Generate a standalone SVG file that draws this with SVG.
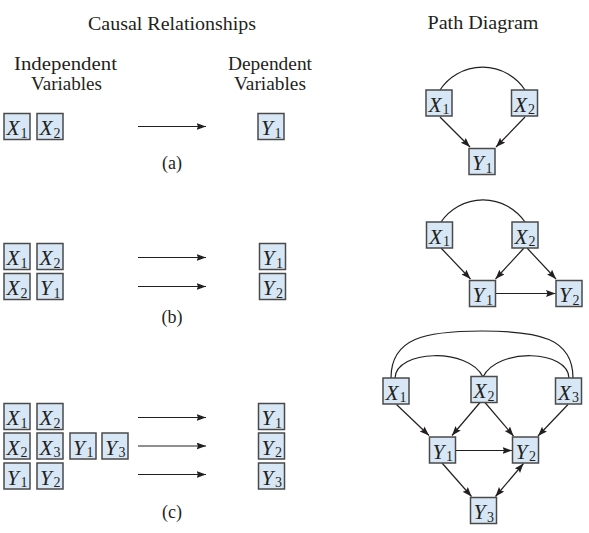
<svg xmlns="http://www.w3.org/2000/svg" width="589" height="533" viewBox="0 0 589 533">
<defs>
<style>
.bg{fill:#ffffff}
.box{fill:#d8e7f5;stroke:#4a4a4a;stroke-width:1.5}
.v{font-family:"Liberation Serif",serif;font-style:italic;font-size:21.5px;fill:#231f20}
.s{font-family:"Liberation Serif",serif;font-size:14px;fill:#231f20}
.t{font-family:"Liberation Serif",serif;font-size:18px;fill:#231f20;text-anchor:middle}
.ln{fill:none;stroke:#231f20;stroke-width:1.2}
.ar{marker-end:url(#ah)}
</style>
<marker id="ah" markerUnits="userSpaceOnUse" markerWidth="11" markerHeight="8" refX="9.5" refY="3.5" orient="auto-start-reverse">
<path d="M0,0 L9.5,3.5 L0,7 L1.5,3.5 z" fill="#231f20"/>
</marker>
</defs>
<rect class="bg" x="0" y="0" width="589" height="533"/>

<g id="titles">
<text class="t" x="172" y="30" textLength="168" lengthAdjust="spacingAndGlyphs">Causal Relationships</text>
<text class="t" x="483" y="29" textLength="111" lengthAdjust="spacingAndGlyphs">Path Diagram</text>
<text class="t" x="65.5" y="70" textLength="103" lengthAdjust="spacingAndGlyphs">Independent</text>
<text class="t" x="66.5" y="90" textLength="71" lengthAdjust="spacingAndGlyphs">Variables</text>
<text class="t" x="270" y="70" textLength="84" lengthAdjust="spacingAndGlyphs">Dependent</text>
<text class="t" x="270" y="90" textLength="72" lengthAdjust="spacingAndGlyphs">Variables</text>
<text class="t" x="172" y="169">(a)</text>
<text class="t" x="172" y="322.5">(b)</text>
<text class="t" x="172" y="518">(c)</text>
</g>

<g id="connectors">
<line class="ln ar" x1="138" y1="126.5" x2="206" y2="126.5"/>
<line class="ln ar" x1="138" y1="257.5" x2="206" y2="257.5"/>
<line class="ln ar" x1="138" y1="286.5" x2="206" y2="286.5"/>
<line class="ln ar" x1="138" y1="417.5" x2="206" y2="417.5"/>
<line class="ln ar" x1="138" y1="446" x2="206" y2="446"/>
<line class="ln ar" x1="138" y1="474.5" x2="206" y2="474.5"/>
<path class="ln" d="M440,90 A51,51 0 0 1 525,90"/>
<line class="ln ar" x1="440" y1="117" x2="470" y2="147"/>
<line class="ln ar" x1="525" y1="117" x2="496" y2="147"/>
<path class="ln" d="M441,222 A51,51 0 0 1 525,222"/>
<line class="ln ar" x1="441" y1="248" x2="470.5" y2="279"/>
<line class="ln ar" x1="524" y1="248" x2="495.5" y2="279"/>
<line class="ln ar" x1="527" y1="248" x2="556" y2="279"/>
<line class="ln ar" x1="496" y1="293.5" x2="555.5" y2="293.5"/>
<path class="ln" d="M391,378 C391,338 425,331 482,331 C539,331 573,338 573,378"/>
<path class="ln" d="M395,378 C396,350 468,347 483,377"/>
<path class="ln" d="M483,377 C498,347 568,350 569,378"/>
<line class="ln ar" x1="396.5" y1="404.5" x2="429" y2="435.5"/>
<line class="ln ar" x1="480" y1="402.5" x2="452" y2="435.5"/>
<line class="ln ar" x1="485" y1="402.5" x2="513.5" y2="436"/>
<line class="ln ar" x1="568" y1="404.5" x2="538" y2="436"/>
<line class="ln ar" x1="456" y1="450.5" x2="512" y2="450.5"/>
<line class="ln ar" x1="442" y1="463" x2="471.5" y2="496.5"/>
<line class="ln ar" x1="523.5" y1="463.5" x2="495.5" y2="496.5" stroke-width="1.5" marker-start="url(#ah)"/>
</g>

<g id="a-x1"><rect class="box" x="4" y="113.5" width="26" height="26"/><text class="v" x="6.5" y="135">X</text><text class="s" x="20.5" y="137.5">1</text></g>
<g id="a-x2"><rect class="box" x="37" y="113.5" width="26" height="26"/><text class="v" x="39.5" y="135">X</text><text class="s" x="53.5" y="137.5">2</text></g>
<g id="a-y1"><rect class="box" x="258" y="113.5" width="26" height="26"/><text class="v" x="261" y="135">Y</text><text class="s" x="274.5" y="137.5">1</text></g>

<g id="b-x1"><rect class="box" x="4" y="243.5" width="26" height="26"/><text class="v" x="6.5" y="265">X</text><text class="s" x="20.5" y="267.5">1</text></g>
<g id="b-x2"><rect class="box" x="37" y="243.5" width="26" height="26"/><text class="v" x="39.5" y="265">X</text><text class="s" x="53.5" y="267.5">2</text></g>
<g id="b-x2b"><rect class="box" x="4" y="273.5" width="26" height="26"/><text class="v" x="6.5" y="295">X</text><text class="s" x="20.5" y="297.5">2</text></g>
<g id="b-y1a"><rect class="box" x="37" y="273.5" width="26" height="26"/><text class="v" x="40" y="295">Y</text><text class="s" x="53.5" y="297.5">1</text></g>
<g id="b-y1"><rect class="box" x="259.5" y="243.5" width="26" height="26"/><text class="v" x="262.5" y="265">Y</text><text class="s" x="276" y="267.5">1</text></g>
<g id="b-y2"><rect class="box" x="259.5" y="273.5" width="26" height="26"/><text class="v" x="262.5" y="295">Y</text><text class="s" x="276" y="297.5">2</text></g>

<g id="c-x1"><rect class="box" x="4" y="403.5" width="26" height="26"/><text class="v" x="6.5" y="425">X</text><text class="s" x="20.5" y="427.5">1</text></g>
<g id="c-x2"><rect class="box" x="37" y="403.5" width="26" height="26"/><text class="v" x="39.5" y="425">X</text><text class="s" x="53.5" y="427.5">2</text></g>
<g id="c-x2b"><rect class="box" x="4" y="433" width="26" height="26"/><text class="v" x="6.5" y="454.5">X</text><text class="s" x="20.5" y="457">2</text></g>
<g id="c-x3"><rect class="box" x="37" y="433" width="26" height="26"/><text class="v" x="39.5" y="454.5">X</text><text class="s" x="53.5" y="457">3</text></g>
<g id="c-y1a"><rect class="box" x="70" y="433" width="26" height="26"/><text class="v" x="73" y="454.5">Y</text><text class="s" x="86.5" y="457">1</text></g>
<g id="c-y3a"><rect class="box" x="102" y="433" width="26" height="26"/><text class="v" x="105" y="454.5">Y</text><text class="s" x="118.5" y="457">3</text></g>
<g id="c-y1b"><rect class="box" x="4" y="463" width="26" height="26"/><text class="v" x="7" y="484.5">Y</text><text class="s" x="20.5" y="487">1</text></g>
<g id="c-y2b"><rect class="box" x="37" y="463" width="26" height="26"/><text class="v" x="40" y="484.5">Y</text><text class="s" x="53.5" y="487">2</text></g>
<g id="c-y1"><rect class="box" x="258.5" y="403.5" width="26" height="26"/><text class="v" x="261.5" y="425">Y</text><text class="s" x="275" y="427.5">1</text></g>
<g id="c-y2"><rect class="box" x="258.5" y="433" width="26" height="26"/><text class="v" x="261.5" y="454.5">Y</text><text class="s" x="275" y="457">2</text></g>
<g id="c-y3"><rect class="box" x="258.5" y="463" width="26" height="26"/><text class="v" x="261.5" y="484.5">Y</text><text class="s" x="275" y="487">3</text></g>

<g id="pa-x1"><rect class="box" x="426" y="90" width="26" height="26"/><text class="v" x="428.5" y="111.5">X</text><text class="s" x="442.5" y="114">1</text></g>
<g id="pa-x2"><rect class="box" x="511.5" y="90" width="26" height="26"/><text class="v" x="514" y="111.5">X</text><text class="s" x="528" y="114">2</text></g>
<g id="pa-y1"><rect class="box" x="469" y="148.5" width="26" height="26"/><text class="v" x="472" y="170">Y</text><text class="s" x="485.5" y="172.5">1</text></g>

<g id="pb-x1"><rect class="box" x="426.5" y="222" width="26" height="26"/><text class="v" x="429" y="243.5">X</text><text class="s" x="443" y="246">1</text></g>
<g id="pb-x2"><rect class="box" x="512" y="222" width="26" height="26"/><text class="v" x="514.5" y="243.5">X</text><text class="s" x="528.5" y="246">2</text></g>
<g id="pb-y1"><rect class="box" x="469.5" y="280.5" width="26" height="26"/><text class="v" x="472.5" y="302">Y</text><text class="s" x="486" y="304.5">1</text></g>
<g id="pb-y2"><rect class="box" x="556" y="280.5" width="26" height="26"/><text class="v" x="559" y="302">Y</text><text class="s" x="572.5" y="304.5">2</text></g>

<g id="pc-x1"><rect class="box" x="383" y="378" width="26" height="26"/><text class="v" x="385.5" y="399.5">X</text><text class="s" x="399.5" y="402">1</text></g>
<g id="pc-x2"><rect class="box" x="471" y="376.5" width="26" height="26"/><text class="v" x="473.5" y="398">X</text><text class="s" x="487.5" y="400.5">2</text></g>
<g id="pc-x3"><rect class="box" x="555.5" y="378" width="26" height="26"/><text class="v" x="558" y="399.5">X</text><text class="s" x="572" y="402">3</text></g>
<g id="pc-y1"><rect class="box" x="429.5" y="437" width="26" height="26"/><text class="v" x="432.5" y="458.5">Y</text><text class="s" x="446" y="461">1</text></g>
<g id="pc-y2"><rect class="box" x="512.5" y="437" width="26" height="26"/><text class="v" x="515.5" y="458.5">Y</text><text class="s" x="529" y="461">2</text></g>
<g id="pc-y3"><rect class="box" x="470.5" y="497.5" width="26" height="26"/><text class="v" x="473.5" y="519">Y</text><text class="s" x="487" y="521.5">3</text></g>
</svg>
